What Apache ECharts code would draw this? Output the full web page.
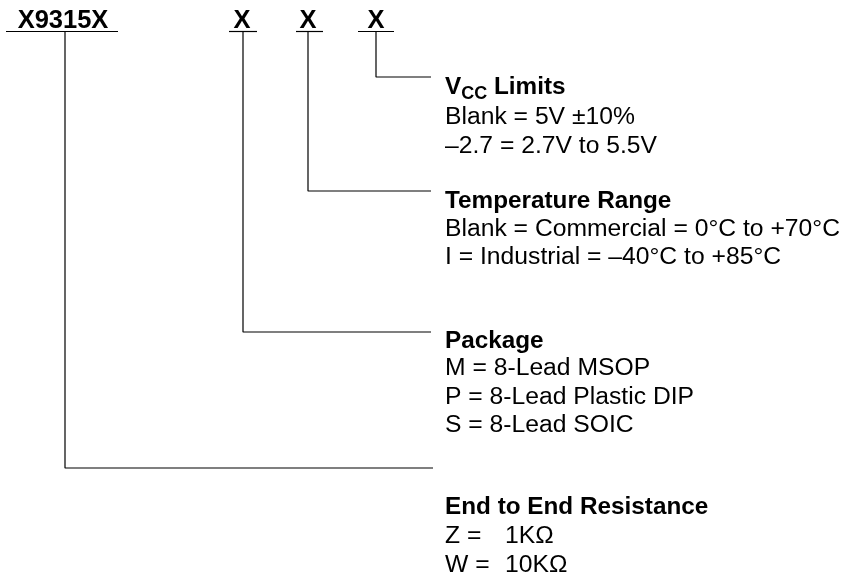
<!DOCTYPE html>
<html>
<head>
<meta charset="utf-8">
<script src="https://cdn.jsdelivr.net/npm/echarts@6/dist/echarts.min.js"></script>
<style>
  html, body { margin: 0; padding: 0; background: #fff; }
  #chart { width: 845px; height: 578px; }
</style>
</head>
<body>
<div id="chart"></div>
<script>
// ordering code fields, left to right
const codeLabels = ['X9315X', 'X', 'X', 'X'];

// sections, top to bottom (field 3 .. field 0)
const headings = ['{b|V}{s|CC}{b| Limits}', '{b|Temperature Range}', '{b|Package}', '{b|End to End Resistance}'];
const vccOptions = ['Blank = 5V \u00B110%', '\u20132.7 = 2.7V to 5.5V'];
const tempOptions = ['Blank = Commercial = 0\u00B0C to +70\u00B0C', 'I = Industrial = \u201340\u00B0C to +85\u00B0C'];
const packageOptions = ['M = 8-Lead MSOP', 'P = 8-Lead Plastic DIP', 'S = 8-Lead SOIC'];
const resistanceCodes = ['Z =', 'W ='];
const resistanceValues = ['1K\u03A9', '10K\u03A9'];

// layout of the diagram (pixel-like units of the hidden axes)
const FIELD_X = [65, 243, 308, 376];
const CODE_X = [63, 242, 308, 376];
const UNDERLINE = [[6, 118], [229, 257], [296, 323], [358, 394]];
const BRANCH_Y = [468, 332, 191, 77];
const LEADER_END = [433, 431, 431, 431];
const LINE_Y = 31.5;
const CODE_BASE = 30;
const TEXT_X = 445;
// heading + option rows, per section
const ROWS_Y = [
  [97.5, 126.5, 156],
  [211.5, 238.5, 267],
  [351.5, 378, 406.5, 434.5],
  [517, 546, 574.5]
];

const FONT = "'Liberation Sans', Arial, Helvetica, sans-serif";

const sections = [
  vccOptions,
  tempOptions,
  packageOptions,
  resistanceCodes.map((c, i) => '{k|' + c + '}{r|' + resistanceValues[i] + '}')
];

// text items: [x, baseline, text, align]
const textItems = [];
codeLabels.forEach((t, i) => textItems.push([CODE_X[i], CODE_BASE, '{c|' + t + '}', 'center']));
sections.forEach((rows, s) => {
  textItems.push([TEXT_X, ROWS_Y[s][0], headings[s], 'left']);
  rows.forEach((r, j) => {
    const txt = r.indexOf('{') === 0 ? r : '{r|' + r + '}';
    textItems.push([TEXT_X, ROWS_Y[s][j + 1], txt, 'left']);
  });
});

const lineStyle = { color: '#000', width: 1.2 };
const lineSeries = [];
FIELD_X.forEach((x, i) => {
  lineSeries.push({
    type: 'line', symbol: 'none', silent: true, lineStyle,
    data: [[UNDERLINE[i][0], LINE_Y], [UNDERLINE[i][1], LINE_Y]]
  });
  lineSeries.push({
    type: 'line', symbol: 'none', silent: true, lineStyle,
    data: [[x, LINE_Y], [x, BRANCH_Y[i]], [LEADER_END[i], BRANCH_Y[i]]]
  });
});

const rich = {
  c: { fontFamily: FONT, fontSize: 25.5, fontWeight: 'bold', lineHeight: 28, verticalAlign: 'top', fill: '#000' },
  b: { fontFamily: FONT, fontSize: 24.3, fontWeight: 'bold', lineHeight: 28, verticalAlign: 'top', fill: '#000' },
  s: { fontFamily: FONT, fontSize: 18, fontWeight: 'bold', lineHeight: 28, padding: [6, 0, 0, 0], verticalAlign: 'bottom', fill: '#000' },
  r: { fontFamily: FONT, fontSize: 24.7, lineHeight: 28, verticalAlign: 'top', fill: '#000' },
  k: { fontFamily: FONT, fontSize: 24.7, lineHeight: 28, width: 60, verticalAlign: 'top', fill: '#000' }
};

const chart = echarts.init(document.getElementById('chart'), null, { renderer: 'canvas' });
chart.setOption({
  animation: false,
  backgroundColor: '#fff',
  grid: { left: 0, right: 0, top: 0, bottom: 0 },
  xAxis: { type: 'value', min: 0, max: 845, show: false },
  yAxis: { type: 'value', min: 0, max: 578, inverse: true, show: false },
  series: lineSeries.concat([{
    type: 'custom',
    silent: true,
    data: textItems,
    renderItem: function (params, api) {
      const item = textItems[params.dataIndex];
      const p = api.coord([item[0], item[1]]);
      return {
        type: 'text',
        x: p[0],
        y: p[1] - 22,
        style: {
          text: item[2],
          rich: rich,
          align: item[3],
          verticalAlign: 'top',
          fill: '#000'
        }
      };
    }
  }])
});
</script>
</body>
</html>
